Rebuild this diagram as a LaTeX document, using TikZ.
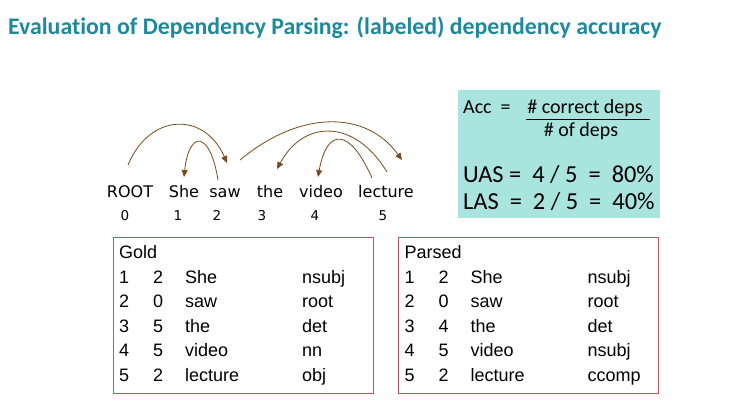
\documentclass[tikz,border=0pt]{standalone}
\usepackage{fontspec}
\setmainfont{Carlito}[Ligatures=CommonOff]
\newfontfamily\wordfont{DejaVu Sans}
\newfontfamily\tabfont{Liberation Sans}
\usepackage{tikz}
\usetikzlibrary{arrows.meta,positioning}
\definecolor{titleteal}{HTML}{1C8A9C}
\definecolor{arcbrown}{HTML}{7A4A1C}
\definecolor{mint}{HTML}{A9E4DF}
\definecolor{tblred}{RGB}{200,80,95}
\newcommand{\deprow}[4]{#1 & #2 & #3 & #4\\}

\begin{document}
\begin{tikzpicture}[
  x=1pt,y=-1pt,
  title/.style={anchor=base west,inner sep=0pt,font=\fontsize{23.8}{27}\selectfont\bfseries,color=titleteal},
  word/.style={anchor=base,inner sep=0pt,font=\wordfont\fontsize{16}{18}\selectfont},
  idx/.style={anchor=base,inner sep=0pt,font=\wordfont\fontsize{13.5}{16}\selectfont},
  arc/.style={-{Triangle[length=7pt,width=6pt]},line width=0.8pt,color=arcbrown},
  accbox/.style={fill=mint,anchor=north west,minimum width=202pt,minimum height=128pt,inner sep=0pt},
  small/.style={anchor=base,inner sep=0pt,font=\fontsize{20}{23}\selectfont},
  big/.style={anchor=base west,inner sep=0pt,font=\fontsize{24.4}{28}\selectfont},
  tbl/.style={anchor=north west,minimum width=260pt,minimum height=156pt,
    text width=248pt,inner xsep=6pt,align=left,font=\tabfont\fontsize{18}{24.5}\selectfont},
  frame/.style={draw=tblred,line width=1pt}
]
\useasboundingbox (0,0) rectangle (743,413);

\node[title] (title) at (8,34) {Evaluation of Dependency Parsing: (labeled) dependency accuracy};

\node[word] (w0) at (130,197) {ROOT};
\node[word] (w1) at (184,197) {She};
\node[word] (w2) at (225,197) {saw};
\node[word] (w3) at (270,197) {the};
\node[word] (w4) at (321,197) {video};
\node[word] (w5) at (386,197) {lecture};
\node[idx] (n0) at (125,220) {0};
\node[idx] (n1) at (178,220) {1};
\node[idx] (n2) at (217,220) {2};
\node[idx] (n3) at (262,220) {3};
\node[idx] (n4) at (315,220) {4};
\node[idx] (n5) at (383,220) {5};

\coordinate (rootout) at (128,165);
\coordinate (sawin) at (227,163);
\coordinate (sawout) at (218,180);
\coordinate (shein) at (184,177);
\coordinate (sawright) at (240,160);
\coordinate (lecin) at (402,160);
\coordinate (lecout) at (387,172);
\coordinate (thein) at (277,169);
\coordinate (lecout2) at (372,178);
\coordinate (videoin) at (318,177);
\draw[arc] (rootout) .. controls +(22,-53) and +(-22,-51) .. (sawin);
\draw[arc] (sawout) .. controls +(-8,-50) and +(5,-47) .. (shein);
\draw[arc] (sawright) .. controls +(60,-50) and +(-36,-50) .. (lecin);
\draw[arc] (lecout) .. controls +(-32,-53) and +(27,-50) .. (thein);
\draw[arc] (lecout2) .. controls +(-22,-50) and +(9,-50) .. (videoin);

\node[accbox] (acc) at (458,90) {};
\node[small,anchor=base west] (acclbl) at (463,113) {Acc\ \ =};
\node[small] (num) at (585,113) {\# correct deps};
\node[small] (den) at (581,136) {\# of deps};
\draw[line width=0.8pt] ([xshift=-1pt,yshift=-6pt]num.base west) -- ([xshift=7pt,yshift=-6pt]num.base east);
\node[big] (uas) at (463,182) {UAS =\ \ 4 / 5\ \ =\ \ 80\%};
\node[big] (las) at (463,209) {LAS\ \ =\ \ 2 / 5\ \ =\ \ 40\%};

\node[tbl] (gold) at (113,237) {\begin{tabular}{@{}p{34pt}@{}p{32pt}@{}p{117pt}@{}l@{}}
\multicolumn{4}{@{}l}{Gold}\\
\deprow{1}{2}{She}{nsubj}
\deprow{2}{0}{saw}{root}
\deprow{3}{5}{the}{det}
\deprow{4}{5}{video}{nn}
\deprow{5}{2}{lecture}{obj}
\end{tabular}};
\node[tbl,right=25pt of gold.north east,anchor=north west] (parsed) {\begin{tabular}{@{}p{34pt}@{}p{32pt}@{}p{117pt}@{}l@{}}
\multicolumn{4}{@{}l}{Parsed}\\
\deprow{1}{2}{She}{nsubj}
\deprow{2}{0}{saw}{root}
\deprow{3}{4}{the}{det}
\deprow{4}{5}{video}{nsubj}
\deprow{5}{2}{lecture}{ccomp}
\end{tabular}};
\draw[frame] (gold.north west) rectangle (gold.south east);
\draw[frame] (parsed.north west) rectangle (parsed.south east);
\end{tikzpicture}
\end{document}
